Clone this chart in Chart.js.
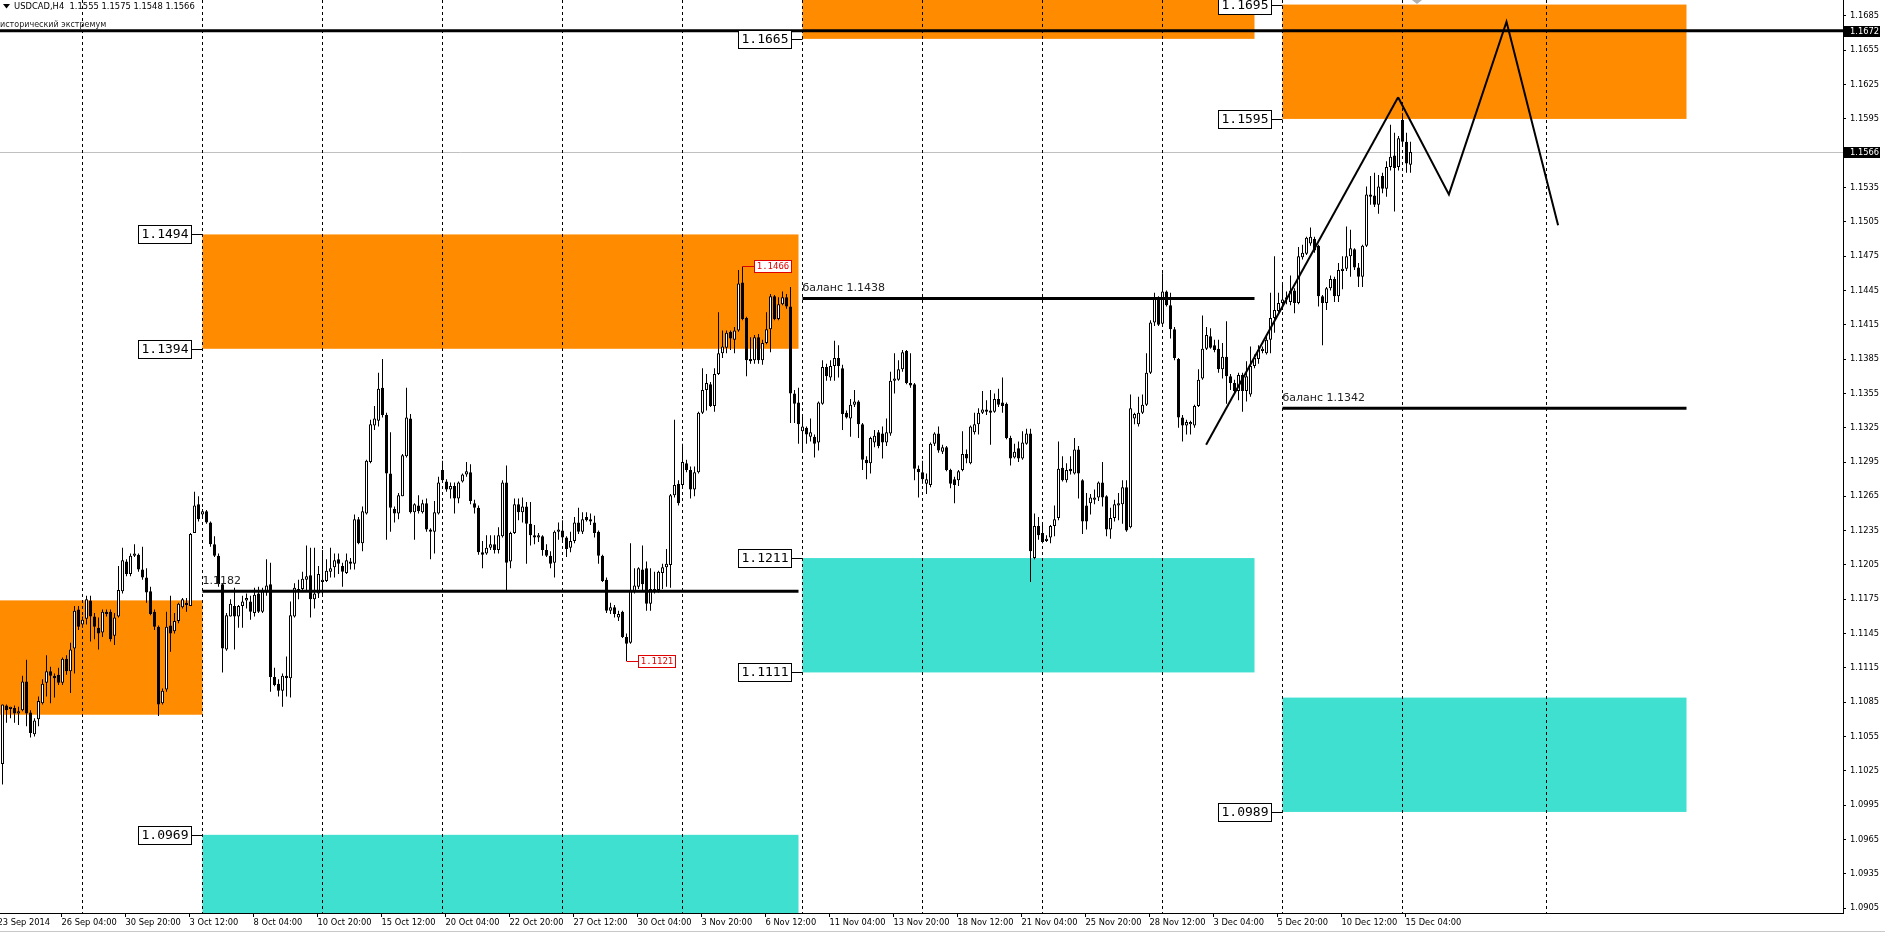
<!DOCTYPE html>
<html>
<head>
<meta charset="utf-8">
<script src="https://cdn.jsdelivr.net/npm/chart.js@4.4.0/dist/chart.umd.min.js"></script>
<style>
  html, body { margin: 0; padding: 0; background: #fff; }
  canvas { display: block; }
</style>
</head>
<body>
<canvas id="chart" width="1885" height="935"></canvas>
<script>
// USDCAD H4, one row per bar: [open, high, low, close]. Bar 0 = first visible bar (23 Sep 2014)
const symbol = 'USDCAD,H4';
const candles = [
  [1.1031,1.1083,1.1013,1.1083],[1.1082,1.1083,1.1067,1.1078],[1.1079,1.1081,1.1071,1.1081],[1.1080,1.1082,1.1067,1.1075],
  [1.1075,1.1081,1.1065,1.1077],[1.1078,1.1108,1.1077,1.1103],[1.1103,1.1122,1.1064,1.1075],[1.1076,1.1078,1.1054,1.1058],
  [1.1057,1.1071,1.1055,1.1069],[1.1070,1.1090,1.1064,1.1086],[1.1084,1.1105,1.1083,1.1101],[1.1102,1.1126,1.1090,1.1112],
  [1.1112,1.1116,1.1084,1.1108],[1.1108,1.1110,1.1089,1.1106],[1.1109,1.1115,1.1100,1.1102],[1.1102,1.1124,1.1100,1.1123],
  [1.1123,1.1126,1.1109,1.1112],[1.1112,1.1137,1.1093,1.1131],[1.1132,1.1169,1.1110,1.1165],[1.1166,1.1169,1.1148,1.1151],
  [1.1153,1.1160,1.1150,1.1157],[1.1158,1.1178,1.1153,1.1175],[1.1174,1.1178,1.1138,1.1160],[1.1160,1.1163,1.1140,1.1151],
  [1.1150,1.1159,1.1131,1.1145],[1.1146,1.1166,1.1142,1.1164],[1.1164,1.1166,1.1160,1.1162],[1.1164,1.1166,1.1138,1.1140],
  [1.1143,1.1163,1.1135,1.1159],[1.1160,1.1204,1.1159,1.1183],[1.1182,1.1220,1.1180,1.1209],[1.1208,1.1210,1.1195,1.1197],
  [1.1197,1.1215,1.1195,1.1213],[1.1213,1.1223,1.1212,1.1215],[1.1214,1.1215,1.1199,1.1201],[1.1201,1.1221,1.1192,1.1194],
  [1.1194,1.1202,1.1172,1.1181],[1.1182,1.1186,1.1161,1.1162],[1.1164,1.1166,1.1148,1.1151],[1.1151,1.1152,1.1073,1.1083],
  [1.1084,1.1097,1.1083,1.1095],[1.1096,1.1164,1.1094,1.1151],[1.1152,1.1178,1.1129,1.1145],[1.1147,1.1163,1.1145,1.1156],
  [1.1156,1.1172,1.1154,1.1171],[1.1168,1.1176,1.1167,1.1175],[1.1172,1.1176,1.1164,1.1170],[1.1169,1.1233,1.1169,1.1232],
  [1.1233,1.1269,1.1233,1.1257],[1.1258,1.1265,1.1243,1.1245],[1.1249,1.1254,1.1247,1.1252],[1.1252,1.1253,1.1241,1.1242],
  [1.1242,1.1243,1.1221,1.1223],[1.1223,1.1230,1.1212,1.1213],[1.1213,1.1215,1.1186,1.1188],[1.1188,1.1189,1.1111,1.1132],
  [1.1131,1.1163,1.1130,1.1161],[1.1160,1.1175,1.1160,1.1171],[1.1169,1.1185,1.1131,1.1160],[1.1160,1.1170,1.1150,1.1169],
  [1.1169,1.1178,1.1150,1.1173],[1.1174,1.1180,1.1167,1.1176],[1.1173,1.1178,1.1157,1.1164],[1.1163,1.1185,1.1160,1.1179],
  [1.1180,1.1186,1.1163,1.1164],[1.1164,1.1185,1.1163,1.1182],[1.1181,1.1210,1.1178,1.1187],[1.1188,1.1207,1.1094,1.1107],
  [1.1107,1.1115,1.1099,1.1100],[1.1101,1.1105,1.1090,1.1095],[1.1095,1.1110,1.1081,1.1108],[1.1108,1.1125,1.1090,1.1106],
  [1.1106,1.1173,1.1089,1.1161],[1.1160,1.1189,1.1159,1.1185],[1.1184,1.1192,1.1175,1.1182],[1.1184,1.1199,1.1183,1.1193],
  [1.1192,1.1222,1.1183,1.1195],[1.1196,1.1220,1.1159,1.1175],[1.1175,1.1220,1.1167,1.1180],[1.1180,1.1204,1.1176,1.1197],
  [1.1190,1.1218,1.1177,1.1192],[1.1191,1.1210,1.1190,1.1200],[1.1199,1.1220,1.1194,1.1202],[1.1203,1.1215,1.1194,1.1209],
  [1.1210,1.1215,1.1197,1.1206],[1.1204,1.1207,1.1186,1.1199],[1.1198,1.1215,1.1197,1.1209],[1.1208,1.1211,1.1201,1.1206],
  [1.1206,1.1249,1.1201,1.1245],[1.1245,1.1247,1.1223,1.1224],[1.1224,1.1256,1.1217,1.1252],[1.1250,1.1297,1.1249,1.1296],
  [1.1295,1.1332,1.1294,1.1328],[1.1327,1.1344,1.1323,1.1333],[1.1331,1.1373,1.1326,1.1359],[1.1360,1.1385,1.1334,1.1336],
  [1.1336,1.1338,1.1227,1.1285],[1.1285,1.1321,1.1234,1.1255],[1.1254,1.1256,1.1242,1.1250],[1.1250,1.1268,1.1245,1.1266],
  [1.1265,1.1302,1.1265,1.1301],[1.1300,1.1360,1.1299,1.1334],[1.1333,1.1337,1.1250,1.1251],[1.1251,1.1259,1.1227,1.1258],
  [1.1257,1.1266,1.1250,1.1252],[1.1251,1.1262,1.1250,1.1259],[1.1259,1.1263,1.1234,1.1236],[1.1236,1.1237,1.1210,1.1234],
  [1.1234,1.1261,1.1215,1.1251],[1.1250,1.1282,1.1249,1.1277],[1.1288,1.1296,1.1277,1.1279],[1.1278,1.1280,1.1269,1.1271],
  [1.1271,1.1277,1.1263,1.1274],[1.1274,1.1277,1.1250,1.1263],[1.1263,1.1278,1.1259,1.1277],[1.1278,1.1285,1.1277,1.1284],
  [1.1284,1.1295,1.1282,1.1287],[1.1286,1.1293,1.1258,1.1261],[1.1259,1.1262,1.1250,1.1255],[1.1255,1.1257,1.1214,1.1216],
  [1.1216,1.1226,1.1202,1.1214],[1.1215,1.1231,1.1214,1.1220],[1.1220,1.1231,1.1218,1.1223],[1.1223,1.1231,1.1215,1.1218],
  [1.1218,1.1238,1.1215,1.1231],[1.1230,1.1279,1.1229,1.1277],[1.1277,1.1292,1.1183,1.1207],[1.1208,1.1234,1.1202,1.1233],
  [1.1233,1.1263,1.1232,1.1258],[1.1258,1.1263,1.1244,1.1251],[1.1251,1.1264,1.1242,1.1256],[1.1256,1.1260,1.1206,1.1241],
  [1.1241,1.1260,1.1222,1.1231],[1.1231,1.1240,1.1223,1.1229],[1.1229,1.1233,1.1225,1.1231],[1.1230,1.1231,1.1213,1.1218],
  [1.1218,1.1223,1.1212,1.1213],[1.1213,1.1217,1.1202,1.1206],[1.1207,1.1235,1.1194,1.1234],[1.1234,1.1242,1.1227,1.1236],
  [1.1235,1.1244,1.1225,1.1229],[1.1229,1.1230,1.1212,1.1219],[1.1220,1.1234,1.1216,1.1226],[1.1226,1.1247,1.1224,1.1242],
  [1.1242,1.1255,1.1232,1.1234],[1.1234,1.1251,1.1232,1.1245],[1.1247,1.1251,1.1243,1.1244],[1.1245,1.1250,1.1240,1.1243],
  [1.1242,1.1248,1.1229,1.1233],[1.1234,1.1235,1.1206,1.1213],[1.1213,1.1214,1.1190,1.1191],[1.1192,1.1194,1.1163,1.1165],
  [1.1165,1.1172,1.1162,1.1168],[1.1168,1.1170,1.1159,1.1162],[1.1159,1.1165,1.1156,1.1162],[1.1164,1.1165,1.1141,1.1142],
  [1.1142,1.1145,1.1121,1.1136],[1.1137,1.1224,1.1136,1.1183],[1.1182,1.1202,1.1180,1.1187],[1.1186,1.1203,1.1184,1.1202],
  [1.1201,1.1222,1.1183,1.1188],[1.1202,1.1208,1.1165,1.1171],[1.1171,1.1202,1.1165,1.1184],[1.1184,1.1199,1.1180,1.1182],
  [1.1183,1.1200,1.1181,1.1199],[1.1198,1.1206,1.1184,1.1203],[1.1203,1.1219,1.1186,1.1206],[1.1205,1.1267,1.1185,1.1266],
  [1.1266,1.1332,1.1264,1.1275],[1.1276,1.1279,1.1257,1.1259],[1.1275,1.1311,1.1273,1.1295],[1.1294,1.1297,1.1286,1.1288],
  [1.1288,1.1291,1.1263,1.1271],[1.1271,1.1291,1.1265,1.1286],[1.1286,1.1339,1.1285,1.1338],[1.1338,1.1377,1.1337,1.1358],
  [1.1358,1.1372,1.1340,1.1364],[1.1363,1.1365,1.1343,1.1344],[1.1344,1.1377,1.1339,1.1372],[1.1372,1.1426,1.1371,1.1390],
  [1.1390,1.1410,1.1386,1.1396],[1.1395,1.1410,1.1390,1.1408],[1.1409,1.1410,1.1393,1.1403],[1.1402,1.1413,1.1390,1.1410],
  [1.1410,1.1463,1.1409,1.1451],[1.1452,1.1466,1.1419,1.1420],[1.1421,1.1422,1.1370,1.1384],[1.1385,1.1404,1.1381,1.1383],
  [1.1384,1.1406,1.1381,1.1404],[1.1404,1.1407,1.1381,1.1384],[1.1384,1.1402,1.1380,1.1399],[1.1399,1.1426,1.1398,1.1411],
  [1.1411,1.1442,1.1391,1.1440],[1.1440,1.1441,1.1419,1.1420],[1.1420,1.1439,1.1419,1.1433],[1.1433,1.1444,1.1432,1.1439],
  [1.1439,1.1442,1.1429,1.1431],[1.1431,1.1448,1.1329,1.1355],[1.1355,1.1358,1.1329,1.1346],[1.1347,1.1360,1.1311,1.1328],
  [1.1322,1.1335,1.1305,1.1326],[1.1325,1.1326,1.1311,1.1319],[1.1317,1.1333,1.1313,1.1321],[1.1317,1.1319,1.1299,1.1311],
  [1.1312,1.1348,1.1305,1.1347],[1.1346,1.1384,1.1345,1.1378],[1.1378,1.1381,1.1366,1.1370],[1.1369,1.1384,1.1366,1.1379],
  [1.1379,1.1401,1.1366,1.1386],[1.1386,1.1397,1.1369,1.1379],[1.1377,1.1380,1.1323,1.1337],[1.1338,1.1340,1.1333,1.1334],
  [1.1333,1.1350,1.1317,1.1345],[1.1345,1.1358,1.1343,1.1348],[1.1348,1.1349,1.1316,1.1328],[1.1328,1.1329,1.1288,1.1297],
  [1.1297,1.1300,1.1280,1.1294],[1.1294,1.1317,1.1285,1.1316],[1.1312,1.1323,1.1308,1.1318],[1.1321,1.1323,1.1307,1.1309],
  [1.1320,1.1326,1.1298,1.1312],[1.1312,1.1333,1.1309,1.1321],[1.1320,1.1374,1.1318,1.1366],[1.1366,1.1390,1.1355,1.1368],
  [1.1367,1.1384,1.1366,1.1376],[1.1376,1.1393,1.1374,1.1391],[1.1392,1.1393,1.1363,1.1364],[1.1364,1.1390,1.1360,1.1362],
  [1.1363,1.1364,1.1279,1.1289],[1.1289,1.1292,1.1264,1.1286],[1.1286,1.1296,1.1276,1.1280],[1.1276,1.1285,1.1267,1.1280],
  [1.1275,1.1312,1.1273,1.1311],[1.1311,1.1321,1.1309,1.1320],[1.1320,1.1326,1.1303,1.1305],[1.1304,1.1310,1.1302,1.1308],
  [1.1308,1.1309,1.1287,1.1288],[1.1288,1.1289,1.1272,1.1276],[1.1280,1.1282,1.1259,1.1275],[1.1279,1.1288,1.1274,1.1287],
  [1.1288,1.1322,1.1287,1.1302],[1.1302,1.1306,1.1294,1.1298],[1.1294,1.1327,1.1293,1.1326],[1.1321,1.1338,1.1319,1.1328],
  [1.1328,1.1342,1.1319,1.1338],[1.1338,1.1357,1.1337,1.1341],[1.1341,1.1349,1.1336,1.1339],[1.1340,1.1358,1.1310,1.1338],
  [1.1339,1.1355,1.1338,1.1350],[1.1350,1.1359,1.1343,1.1345],[1.1347,1.1369,1.1338,1.1344],[1.1346,1.1347,1.1315,1.1316],
  [1.1316,1.1318,1.1292,1.1298],[1.1299,1.1311,1.1298,1.1304],[1.1307,1.1313,1.1295,1.1298],[1.1298,1.1322,1.1297,1.1312],
  [1.1311,1.1324,1.1310,1.1320],[1.1320,1.1324,1.1190,1.1217],[1.1211,1.1250,1.1210,1.1239],[1.1239,1.1247,1.1227,1.1231],
  [1.1233,1.1240,1.1224,1.1225],[1.1226,1.1231,1.1225,1.1228],[1.1229,1.1240,1.1224,1.1239],[1.1239,1.1257,1.1230,1.1245],
  [1.1246,1.1313,1.1244,1.1289],[1.1290,1.1300,1.1278,1.1279],[1.1279,1.1294,1.1277,1.1288],[1.1289,1.1300,1.1284,1.1287],
  [1.1285,1.1316,1.1284,1.1306],[1.1306,1.1309,1.1263,1.1285],[1.1279,1.1280,1.1232,1.1243],[1.1257,1.1268,1.1236,1.1243],
  [1.1259,1.1267,1.1249,1.1264],[1.1262,1.1271,1.1258,1.1264],[1.1264,1.1278,1.1261,1.1277],[1.1277,1.1295,1.1256,1.1264],
  [1.1265,1.1266,1.1230,1.1236],[1.1236,1.1255,1.1228,1.1246],[1.1246,1.1262,1.1243,1.1258],[1.1257,1.1268,1.1244,1.1259],
  [1.1258,1.1279,1.1241,1.1273],[1.1273,1.1279,1.1234,1.1235],[1.1238,1.1354,1.1237,1.1342],[1.1333,1.1338,1.1328,1.1337],
  [1.1328,1.1352,1.1326,1.1338],[1.1338,1.1354,1.1337,1.1345],[1.1345,1.1390,1.1344,1.1373],[1.1373,1.1419,1.1372,1.1417],
  [1.1417,1.1443,1.1414,1.1438],[1.1438,1.1440,1.1414,1.1415],[1.1416,1.1460,1.1415,1.1444],[1.1444,1.1445,1.1431,1.1432],
  [1.1432,1.1443,1.1403,1.1411],[1.1411,1.1413,1.1384,1.1386],[1.1385,1.1386,1.1325,1.1334],[1.1334,1.1336,1.1313,1.1327],
  [1.1327,1.1332,1.1319,1.1330],[1.1328,1.1331,1.1319,1.1330],[1.1327,1.1345,1.1325,1.1344],[1.1344,1.1376,1.1343,1.1367],
  [1.1368,1.1423,1.1367,1.1394],[1.1394,1.1413,1.1393,1.1406],[1.1405,1.1412,1.1394,1.1395],[1.1397,1.1402,1.1391,1.1393],
  [1.1394,1.1402,1.1373,1.1376],[1.1376,1.1399,1.1368,1.1387],[1.1387,1.1418,1.1346,1.1370],[1.1370,1.1372,1.1358,1.1364],
  [1.1364,1.1367,1.1355,1.1357],[1.1357,1.1373,1.1349,1.1371],[1.1371,1.1373,1.1339,1.1357],[1.1357,1.1383,1.1348,1.1370],
  [1.1354,1.1396,1.1352,1.1379],[1.1379,1.1389,1.1377,1.1386],[1.1385,1.1397,1.1381,1.1393],[1.1392,1.1396,1.1390,1.1394],
  [1.1390,1.1405,1.1389,1.1402],[1.1402,1.1443,1.1390,1.1421],[1.1421,1.1475,1.1408,1.1428],[1.1427,1.1443,1.1425,1.1434],
  [1.1434,1.1451,1.1428,1.1437],[1.1437,1.1444,1.1433,1.1439],[1.1435,1.1458,1.1432,1.1445],[1.1445,1.1447,1.1425,1.1434],
  [1.1434,1.1483,1.1433,1.1475],[1.1474,1.1485,1.1472,1.1478],[1.1477,1.1492,1.1476,1.1491],[1.1486,1.1500,1.1484,1.1492],
  [1.1490,1.1492,1.1478,1.1480],[1.1484,1.1485,1.1431,1.1440],[1.1440,1.1441,1.1397,1.1434],[1.1434,1.1448,1.1428,1.1447],
  [1.1447,1.1458,1.1445,1.1455],[1.1455,1.1457,1.1435,1.1440],[1.1440,1.1469,1.1435,1.1463],[1.1462,1.1475,1.1446,1.1464],
  [1.1464,1.1501,1.1462,1.1475],[1.1475,1.1498,1.1457,1.1482],[1.1481,1.1482,1.1463,1.1465],[1.1465,1.1469,1.1448,1.1457],
  [1.1457,1.1485,1.1448,1.1484],[1.1484,1.1536,1.1483,1.1529],[1.1529,1.1545,1.1520,1.1527],[1.1528,1.1548,1.1518,1.1520],
  [1.1520,1.1546,1.1512,1.1536],[1.1545,1.1548,1.1530,1.1534],[1.1534,1.1558,1.1527,1.1553],[1.1553,1.1590,1.1550,1.1562],
  [1.1563,1.1583,1.1514,1.1552],[1.1553,1.1580,1.1550,1.1578],[1.1594,1.1600,1.1573,1.1575],[1.1575,1.1583,1.1548,1.1556],
  [1.1555,1.1575,1.1548,1.1566]
];

// price axis labels
const yTicks = [1.1685, 1.1655, 1.1625, 1.1595, 1.1565, 1.1535, 1.1505, 1.1475, 1.1445, 1.1415, 1.1385, 1.1355, 1.1325, 1.1295,
  1.1265, 1.1235, 1.1205, 1.1175, 1.1145, 1.1115, 1.1085, 1.1055, 1.1025, 1.0995, 1.0965, 1.0935, 1.0905];

// time axis labels and the bar each one belongs to
const timeLabels = ['23 Sep 2014', '26 Sep 04:00', '30 Sep 20:00', '3 Oct 12:00', '8 Oct 04:00', '10 Oct 20:00', '15 Oct 12:00',
  '20 Oct 04:00', '22 Oct 20:00', '27 Oct 12:00', '30 Oct 04:00', '3 Nov 20:00', '6 Nov 12:00', '11 Nov 04:00', '13 Nov 20:00',
  '18 Nov 12:00', '21 Nov 04:00', '25 Nov 20:00', '28 Nov 12:00', '3 Dec 04:00', '5 Dec 20:00', '10 Dec 12:00', '15 Dec 04:00'];
const timeLabelBars = [-2, 14, 30, 46, 62, 78, 94, 110, 126, 142, 158, 174, 190, 206, 222, 238, 254, 270, 286, 302, 318, 334, 350];

// dashed vertical grid (bar index)
const gridBars = [20, 50, 80, 110, 140, 170, 200, 230, 260, 290, 320, 350, 386];

// zones: [fromBar, toBar, low, high]
const supplyZones = [[-5, 50, 1.1074, 1.1174], [50, 199, 1.1394, 1.1494], [200, 313, 1.1665, 1.1765], [320, 421, 1.1595, 1.1695]];
const demandZones = [[50, 199, 1.0869, 1.0969], [200, 313, 1.1111, 1.1211], [320, 421, 1.0989, 1.1089]];

// boxed price tags: [bar, price]
const priceTags = [[50, 1.1494], [50, 1.1394], [50, 1.0969], [200, 1.1665], [200, 1.1211], [200, 1.1111],
  [320, 1.1695], [320, 1.1595], [320, 1.0989]];

// horizontal levels: [fromBar, toBar, price, caption]
const levels = [[50, 199, 1.1182, '1.1182'], [200, 313, 1.1438, 'баланс 1.1438'], [320, 421, 1.1342, 'баланс 1.1342']];
const extremeLevel = 1.1672;
const extremeCaption = 'исторический экстремум';

// red high / low marks: [bar, price]
const extremes = [[185, 1.1466], [156, 1.1121]];

// trend line and projected path: [bar, price]
const trendLine = [[300.9, 1.1310], [348.9, 1.1614]];
const projection = [[348.9, 1.1614], [361.6, 1.1529], [376.0, 1.1680], [388.9, 1.1502]];

const XMIN = -0.625, XMAX = 460.125;
const YMIN = 1.090064, YMAX = 1.169899;
const ORANGE = '#ff8c00', TURQ = '#40e0d0';

const last = candles[candles.length - 1];
const bidPrice = last[3];

const pt = a => ({ x: a[0], y: a[1] });

// keep the plot area fixed: no automatic label padding
const noPad = s => { s.paddingLeft = 0; s.paddingRight = 0; s.paddingTop = 0; s.paddingBottom = 0; };

const overlay = {
    id: 'overlay',
    beforeDraw(chart) {
        const { ctx, chartArea: a, scales: { x, y } } = chart;
        ctx.save();
        ctx.fillStyle = '#fff';
        ctx.fillRect(0, 0, chart.width, chart.height);
        ctx.beginPath();
        ctx.rect(a.left, a.top, a.right - a.left, a.bottom - a.top);
        ctx.clip();
        const box = (z, color) => {
            const x1 = x.getPixelForValue(z[0]), x2 = x.getPixelForValue(z[1]);
            const y1 = y.getPixelForValue(z[3]), y2 = y.getPixelForValue(z[2]);
            ctx.fillStyle = color;
            ctx.fillRect(x1, y1, x2 - x1, y2 - y1);
        };
        supplyZones.forEach(z => box(z, ORANGE));
        demandZones.forEach(z => box(z, TURQ));
        // bid line
        const by = Math.round(y.getPixelForValue(bidPrice)) + 0.5;
        ctx.strokeStyle = '#c0c0c0';
        ctx.lineWidth = 1;
        ctx.beginPath(); ctx.moveTo(a.left, by); ctx.lineTo(a.right, by); ctx.stroke();
        ctx.restore();
    },
    afterDatasetsDraw(chart) {
        const { ctx, chartArea: a, scales: { x, y } } = chart;
        ctx.save();
        ctx.beginPath();
        ctx.rect(a.left, a.top, a.right - a.left, a.bottom - a.top);
        ctx.clip();

        // captions over level lines
        ctx.font = '11px "DejaVu Sans"';
        ctx.fillStyle = '#222';
        ctx.textBaseline = 'middle';
        ctx.textAlign = 'left';
        levels.forEach(l => ctx.fillText(l[3], x.getPixelForValue(l[0]), y.getPixelForValue(l[2]) - 10));
        ctx.font = '8px "DejaVu Sans"';
        ctx.fillText(extremeCaption, 0, y.getPixelForValue(extremeLevel) - 6);

        // boxed price tags
        ctx.font = '13px "DejaVu Sans Mono"';
        ctx.textAlign = 'center';
        priceTags.forEach(t => {
            const px = x.getPixelForValue(t[0]);
            const py = Math.round(y.getPixelForValue(t[1]));
            const txt = t[1].toFixed(4);
            const w = Math.round(ctx.measureText(txt).width + 6), h = 18;
            const right = Math.round(px - 12);
            ctx.fillStyle = '#fff';
            ctx.fillRect(right - w, py - h / 2, w, h);
            ctx.strokeStyle = '#000';
            ctx.lineWidth = 1;
            ctx.strokeRect(right - w + 0.5, py - h / 2 + 0.5, w, h);
            ctx.beginPath(); ctx.moveTo(right, py + 0.5); ctx.lineTo(px, py + 0.5); ctx.stroke();
            ctx.fillStyle = '#000';
            ctx.fillText(txt, right - w / 2 + 0.5, py + 1);
        });

        // red extreme marks
        ctx.font = '9px "DejaVu Sans Mono"';
        extremes.forEach(e => {
            const px = x.getPixelForValue(e[0]);
            const py = Math.round(y.getPixelForValue(e[1]));
            const txt = e[1].toFixed(4);
            const w = Math.round(ctx.measureText(txt).width + 4), h = 12;
            const left = Math.round(px + 11);
            ctx.strokeStyle = '#e00000';
            ctx.lineWidth = 1;
            ctx.beginPath(); ctx.moveTo(px, py + 0.5); ctx.lineTo(left, py + 0.5); ctx.stroke();
            ctx.fillStyle = '#fff';
            ctx.fillRect(left, py - h / 2, w, h);
            ctx.strokeRect(left + 0.5, py - h / 2 + 0.5, w, h);
            ctx.fillStyle = '#e00000';
            ctx.fillText(txt, left + w / 2 + 0.5, py + 1);
        });
        ctx.restore();
    },
    afterDraw(chart) {
        const { ctx, chartArea: a, scales: { y } } = chart;
        ctx.save();
        // highlighted prices on the right axis
        ctx.font = '8.3px "DejaVu Sans"';
        ctx.textBaseline = 'middle';
        ctx.textAlign = 'left';
        [extremeLevel, bidPrice].forEach(p => {
            const py = Math.round(y.getPixelForValue(p));
            ctx.fillStyle = '#000';
            ctx.fillRect(a.right + 1, py - 5, 36, 11);
            ctx.fillStyle = '#fff';
            ctx.fillText(p.toFixed(4), a.right + 7, py + 0.5);
        });
        // chart shift marker
        ctx.fillStyle = '#b0b0b0';
        ctx.beginPath(); ctx.moveTo(1412, 0); ctx.lineTo(1422, 0); ctx.lineTo(1417, 4); ctx.fill();
        // header
        ctx.fillStyle = '#000';
        ctx.beginPath(); ctx.moveTo(3, 4); ctx.lineTo(10, 4); ctx.lineTo(6.5, 8.5); ctx.fill();
        ctx.font = '8.4px "DejaVu Sans"';
        ctx.fillText(symbol + '  ' + last.map(v => v.toFixed(4)).join(' '), 14, 6.5);
        // window edge
        ctx.fillStyle = '#c8c8c8';
        ctx.fillRect(0, 931, chart.width, 1);
        ctx.restore();
    }
};

const isUp = i => candles[i][3] >= candles[i][0];

const lineSet = (points, width) => ({
    type: 'line', order: 0, data: points.map(pt),
    borderColor: '#000', borderWidth: width, pointRadius: 0, fill: false
});

new Chart(document.getElementById('chart'), {
    type: 'bar',
    data: {
        datasets: [
            ...levels.map(l => lineSet([[l[0], l[2]], [l[1], l[2]]], 3)),
            lineSet([[XMIN - 1, extremeLevel], [XMAX + 1, extremeLevel]], 3),
            lineSet(trendLine, 2),
            lineSet(projection, 2),
            {
                order: 1, data: candles.map((c, i) => ({ x: i, y: [c[0], c[3]] })),
                barThickness: 3, grouped: false, inflateAmount: 0,
                backgroundColor: ctx => isUp(ctx.dataIndex) ? '#fff' : '#000',
                borderColor: '#000', borderWidth: 1, borderSkipped: false
            },
            {
                order: 2, data: candles.map((c, i) => ({ x: i, y: [c[2], c[1]] })),
                barThickness: 1, grouped: false, inflateAmount: 0,
                backgroundColor: '#000', borderWidth: 0
            }
        ]
    },
    options: {
        responsive: false,
        devicePixelRatio: 1,
        animation: false,
        layout: { padding: 0 },
        plugins: { legend: { display: false }, tooltip: { enabled: false } },
        scales: {
            x: {
                type: 'linear', position: 'bottom', min: XMIN, max: XMAX, offset: false,
                afterFit: s => { s.height = 22; noPad(s); },
                afterBuildTicks: s => {
                    s.ticks = gridBars.map(v => ({ value: v, grid: true }))
                        .concat(timeLabelBars.map((v, k) => ({ value: v + 0.75, text: timeLabels[k] })))
                        .sort((p, q) => p.value - q.value);
                },
                grid: {
                    offset: false, drawOnChartArea: true, drawTicks: true, tickLength: 4, lineWidth: 1,
                    color: c => (c.tick && c.tick.grid) ? '#000' : 'rgba(0,0,0,0)',
                    tickColor: c => (c.tick && c.tick.grid) ? 'rgba(0,0,0,0)' : '#000'
                },
                border: { display: true, color: '#000', width: 1, dash: [3, 3] },
                ticks: {
                    autoSkip: false, maxRotation: 0, minRotation: 0, align: 'start', padding: 1,
                    color: '#000', font: { family: 'DejaVu Sans', size: 8.3 },
                    callback: (v, i, t) => t[i].text || ''
                }
            },
            y: {
                type: 'linear', position: 'right', min: YMIN, max: YMAX,
                afterFit: s => { s.width = 42; noPad(s); },
                afterBuildTicks: s => { s.ticks = yTicks.map(v => ({ value: v })); },
                grid: { drawOnChartArea: false, drawTicks: true, tickLength: 3, tickColor: '#000' },
                border: { display: true, color: '#000', width: 1 },
                ticks: {
                    autoSkip: false, padding: 4, color: '#000',
                    font: { family: 'DejaVu Sans', size: 8.3 },
                    callback: v => v.toFixed(4)
                }
            }
        }
    },
    plugins: [overlay]
});
</script>
</body>
</html>
